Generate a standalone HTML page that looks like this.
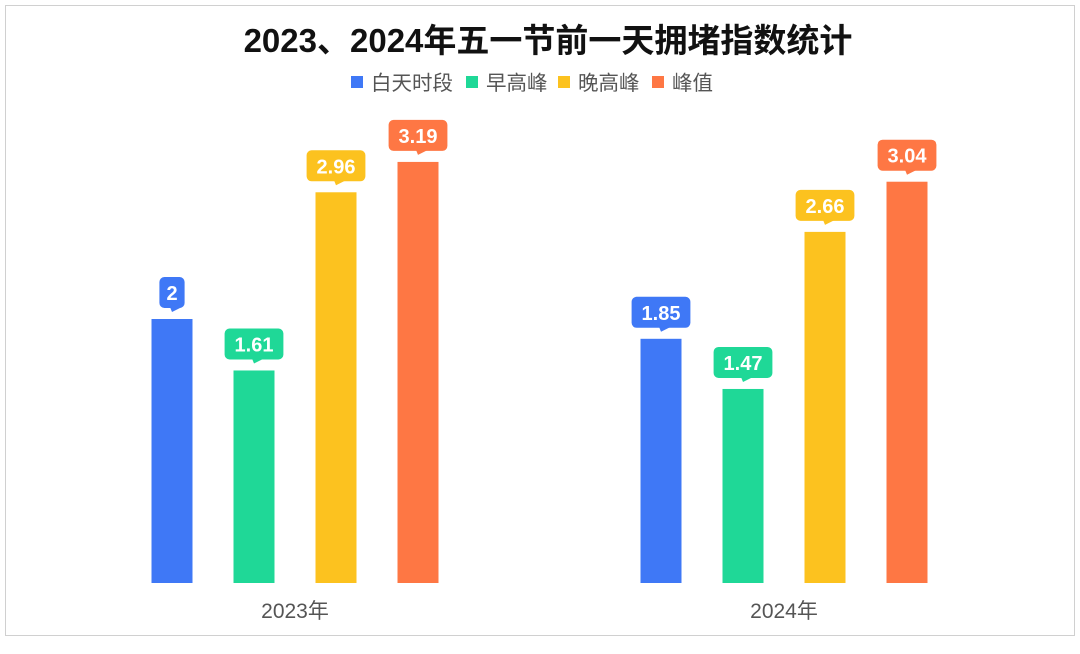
<!DOCTYPE html>
<html><head><meta charset="utf-8"><style>
body{margin:0;background:#fff;}
svg{display:block;font-family:"Liberation Sans","Noto Sans CJK SC",sans-serif;}
</style></head><body>
<svg id="chart" width="1080" height="654" viewBox="0 0 1080 654">
<rect x="5.5" y="5.5" width="1069" height="630" fill="#fff" stroke="#d0d0d0"/>
<text x="548" y="52" text-anchor="middle" font-size="33" font-weight="bold" fill="#111">2023、2024年五一节前一天拥堵指数统计</text>
<g id="legend"></g>
<g id="bars"></g>
<g id="xaxis"></g>
</svg>
<script>
const categories = ["2023年", "2024年"];
const seriesNames = ["白天时段", "早高峰", "晚高峰", "峰值"];
const daytime = [2, 1.85];
const morningPeak = [1.61, 1.47];
const eveningPeak = [2.96, 2.66];
const peakValue = [3.19, 3.04];
const seriesValues = [daytime, morningPeak, eveningPeak, peakValue];
const colors = ["#3f78f6", "#1fd897", "#fcc21f", "#fe7744"];

const NS = "http://www.w3.org/2000/svg";
function mk(tag, attrs, parent){const e=document.createElementNS(NS,tag);for(const k in attrs)e.setAttribute(k,attrs[k]);parent.appendChild(e);return e;}
const baseY = 583, unit = 132;
const groupCenters = [295, 784];
const barW = 41, step = 82;
function yScale(v){return baseY - v*unit;}
function xScale(ci, si){return groupCenters[ci] + (si - 1.5)*step - barW/2;}

const legend = document.getElementById('legend');
const legX = [351, 466, 558, 652];
seriesNames.forEach((n,i)=>{
  const g = mk('g',{},legend);
  
  
  mk('rect',{x:legX[i],y:76,width:12,height:12,fill:colors[i]},g);
  const t = mk('text',{x:legX[i]+20,y:90,'font-size':20.5,fill:'#555'},g);
  t.textContent = n;
});

const bars = document.getElementById('bars');
categories.forEach((c,ci)=>{
  seriesValues.forEach((arr,si)=>{
    const v = arr[ci];
    const x = xScale(ci,si), y = yScale(v);
    const r = mk('rect',{x:x,y:y,width:barW,height:baseY-y,fill:colors[si]},bars);
    
    
    const label = String(v);
    const w = label.length*11.2 + 14;
    const cx = x + barW/2;
    const bt = y - 11, bh = 31;
    const g = mk('g',{},bars);
    
    
    mk('rect',{x:cx-w/2,y:bt-bh,width:w,height:bh,rx:5,fill:colors[si]},g);
    mk('path',{d:`M${cx-2} ${bt-1} L${cx+10} ${bt-1} L${cx} ${bt+4} Z`,fill:colors[si]},g);
    const t = mk('text',{x:cx,y:bt-8,'text-anchor':'middle','font-size':20,'font-weight':'bold',fill:'#fff'},g);
    t.textContent = label;
  });
});

const xaxis = document.getElementById('xaxis');
categories.forEach((c,ci)=>{
  const t = mk('text',{x:groupCenters[ci],y:618,'text-anchor':'middle','font-size':21,fill:'#555'},xaxis);
  
  
  t.textContent = c;
});
</script>
</body></html>
